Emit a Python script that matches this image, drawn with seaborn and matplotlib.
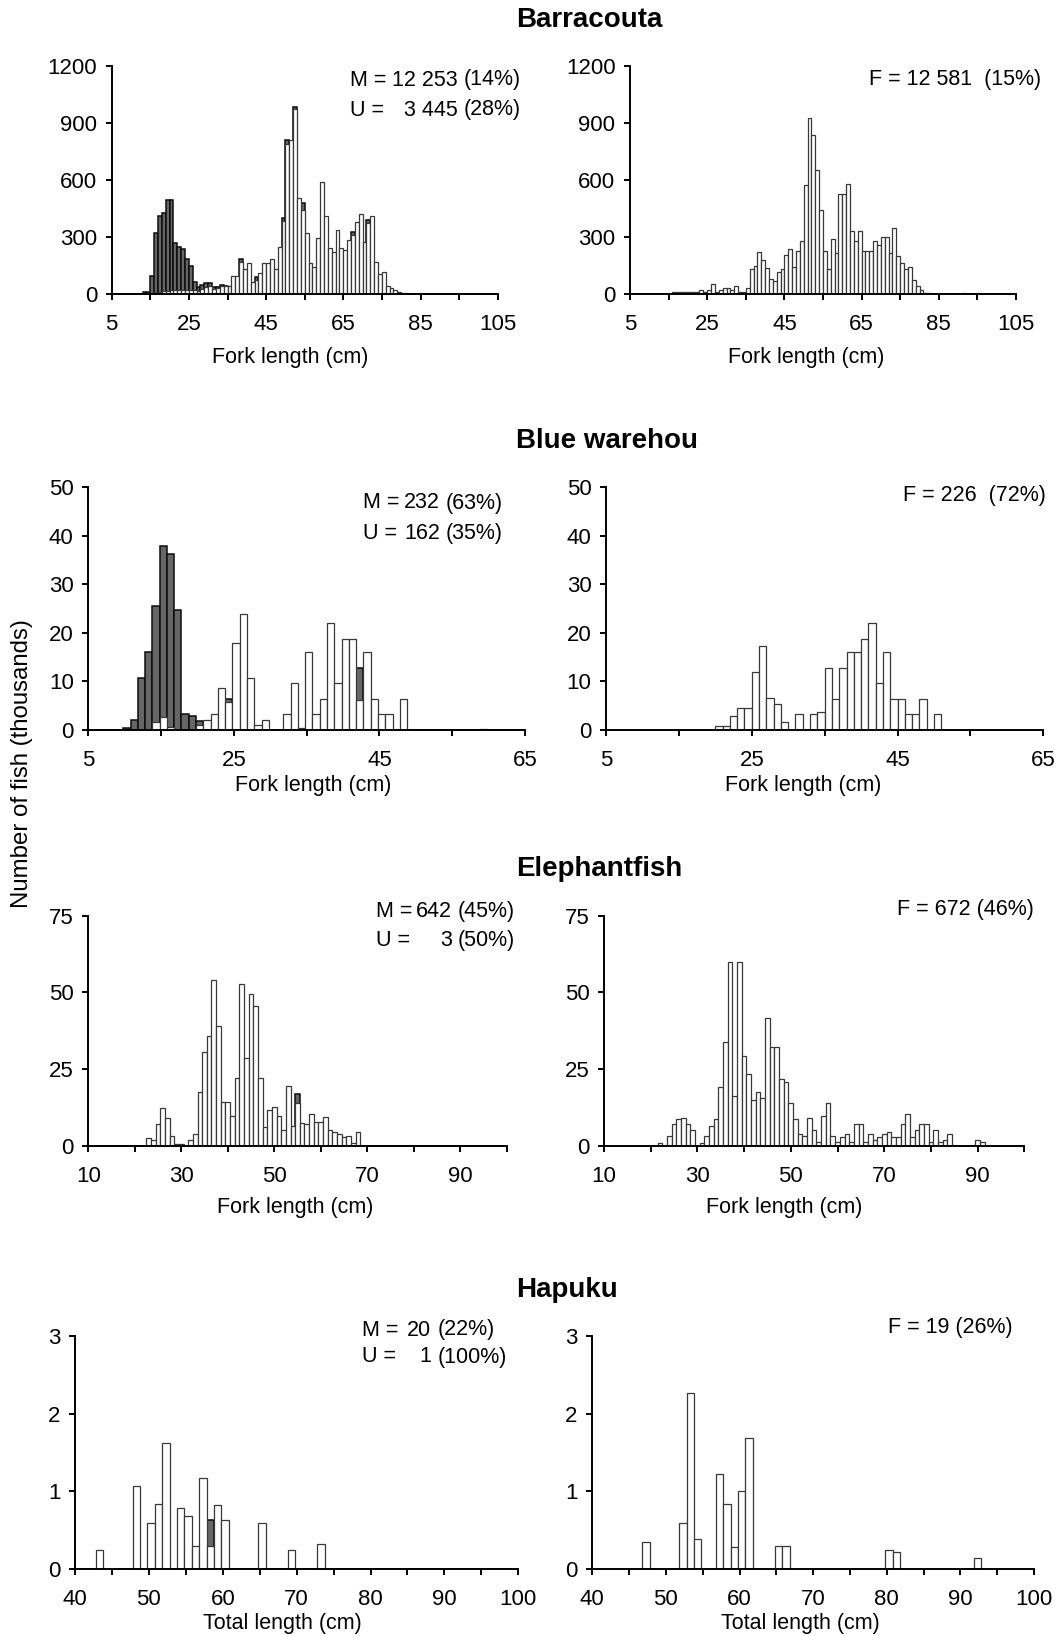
import numpy as np
import pandas as pd
import matplotlib
matplotlib.use("Agg")
import matplotlib.pyplot as plt
import seaborn as sns

sns.set_theme(style="ticks", rc={"axes.edgecolor": "black", "xtick.color": "black",
                                 "ytick.color": "black", "text.color": "black",
                                 "axes.labelcolor": "black"})
plt.rcParams['font.family'] = ['Liberation Sans', 'DejaVu Sans']

# ---------------- data (thousands of fish per 1 cm length class) ----------------
# Barracouta, males (M) + unsexed (U)
barracouta_mu_len = [13, 14, 15, 16, 17, 18, 19, 20, 21, 22, 23, 24, 25, 26, 27, 28, 29, 30, 31, 32,
                     33, 34, 35, 36, 37, 38, 39, 40, 41, 42, 43, 44, 45, 46, 47, 48, 49, 50, 51, 52,
                     53, 54, 55, 56, 57, 58, 59, 60, 61, 62, 63, 64, 65, 66, 67, 68, 69, 70, 71, 72,
                     73, 74, 75, 76, 77, 78, 79, 80]
barracouta_m = [0, 0, 0, 8, 10, 13, 15, 18, 20, 20, 20, 20, 20, 20, 15, 26, 34, 40, 27, 29,
                38, 38, 42, 95, 95, 166, 128, 160, 63, 74, 107, 160, 160, 181, 128, 244, 381, 789, 809, 970,
                505, 440, 317, 160, 139, 295, 589, 410, 242, 221, 335, 242, 230, 282, 311, 379, 419, 274, 373, 409,
                168, 102, 116, 40, 28, 19, 10, 5]
barracouta_u = [10, 10, 95, 310, 400, 410, 478, 475, 245, 224, 213, 161, 126, 43, 18, 20, 20, 14, 10, 8,
                8, 4, 0, 0, 0, 15, 0, 0, 0, 15, 0, 0, 0, 0, 0, 0, 15, 20, 0, 15,
                0, 35, 0, 0, 0, 0, 0, 0, 0, 0, 0, 0, 0, 0, 15, 0, 0, 0, 15, 0,
                0, 0, 0, 0, 0, 0, 0, 0]
# Barracouta, females
barracouta_f_len = [16, 17, 18, 19, 20, 21, 22, 23, 24, 25, 26, 27, 28, 29, 30, 31, 32, 33, 34, 35,
                    36, 37, 38, 39, 40, 41, 42, 43, 44, 45, 46, 47, 48, 49, 50, 51, 52, 53, 54, 55,
                    56, 57, 58, 59, 60, 61, 62, 63, 64, 65, 66, 67, 68, 69, 70, 71, 72, 73, 74, 75,
                    76, 77, 78, 79, 80, 81, 82, 91, 95]
barracouta_f = [7, 7, 7, 7, 7, 7, 7, 19, 10, 19, 51, 10, 19, 30, 30, 19, 42, 9, 9, 30,
                128, 146, 221, 177, 133, 75, 65, 116, 128, 203, 233, 140, 226, 275, 570, 925, 835, 650, 440, 226,
                128, 288, 212, 526, 526, 578, 331, 275, 331, 226, 226, 226, 275, 257, 297, 297, 212, 347, 201, 160,
                128, 138, 72, 40, 19, 5, 5, 5, 5]

# Blue warehou
warehou_mu_len = [10, 11, 12, 13, 14, 15, 16, 17, 18, 19, 20, 21, 22, 23, 24, 25, 26, 27, 28, 29,
                  32, 33, 34, 35, 36, 37, 38, 39, 40, 41, 42, 43, 44, 45, 46, 48, 59]
warehou_m = [0, 0, 0, 0, 1.5, 2.7, 0.6, 0, 0, 0, 1.0, 2.0, 3.2, 8.5, 5.8, 17.8, 23.8, 10.6, 0.9, 2.0,
             3.2, 9.6, 0.3, 16.1, 3.2, 6.3, 22.1, 9.6, 18.8, 18.8, 6.1, 16.1, 6.3, 3.2, 3.2, 6.3, 0.2]
warehou_u = [0.3, 2.0, 10.6, 16.1, 24.0, 35.2, 35.6, 24.7, 3.2, 2.9, 0.7, 0, 0, 0, 0.5, 0, 0, 0, 0, 0,
             0, 0, 0, 0, 0, 0, 0, 0, 0, 0, 6.7, 0, 0, 0, 0, 0, 0]
warehou_f_len = [20, 21, 22, 23, 24, 25, 26, 27, 28, 29, 31, 33, 34, 35, 36, 37, 38, 39, 40, 41,
                 42, 43, 44, 45, 46, 47, 48, 50]
warehou_f = [0.8, 0.8, 2.9, 4.5, 4.5, 11.8, 17.3, 6.5, 5.2, 1.5, 3.2, 3.2, 3.6, 12.8, 6.3, 12.8, 16.1, 16.1,
             18.8, 22.1, 9.6, 16.1, 6.3, 6.3, 3.2, 3.2, 6.3, 3.2]

# Elephantfish
elephant_mu_len = [23, 24, 25, 26, 27, 28, 29, 30, 32, 33, 34, 35, 36, 37, 38, 39, 40, 41, 42, 43,
                   44, 45, 46, 47, 48, 49, 50, 51, 52, 53, 54, 55, 56, 57, 58, 59, 60, 61, 62, 63,
                   64, 65, 66, 67, 68]
elephant_m = [2.7, 2.0, 7.1, 12.3, 9.0, 3.4, 0.7, 0.7, 2.0, 3.8, 17.7, 30.7, 35.8, 54.0, 39.1, 14.4, 14.4, 9.8,
              22.0, 52.8, 28.6, 49.4, 45.6, 22.0, 6.3, 11.7, 12.8, 9.8, 5.2, 19.5, 6.5, 13.9, 7.6, 7.1, 10.3,
              7.7, 7.7, 9.6, 5.2, 4.5, 3.8, 2.8, 3.4, 0.9, 4.5]
elephant_u = [0, 0, 0, 0, 0, 0, 0, 0, 0, 0, 0, 0, 0, 0, 0, 0, 0, 0, 0, 0,
              0, 0, 0, 0, 0, 0, 0, 0, 0, 0, 0, 3.1, 0, 0, 0, 0, 0, 0, 0, 0,
              0, 0, 0, 0, 0]
elephant_f_len = [22, 24, 25, 26, 27, 28, 29, 31, 32, 33, 34, 35, 36, 37, 38, 39, 40, 41, 42, 43,
                  44, 45, 46, 47, 48, 49, 50, 51, 52, 53, 54, 55, 56, 57, 58, 59, 60, 61, 62, 63,
                  64, 65, 66, 67, 68, 69, 70, 71, 72, 73, 74, 75, 76, 77, 78, 79, 80, 81, 82, 83,
                  84, 90, 91]
elephant_f = [0.9, 3.4, 7.1, 8.7, 9.0, 7.1, 5.2, 0.9, 3.4, 6.5, 8.7, 19.1, 33.8, 59.8, 16.4, 59.8, 29.4, 23.5,
              14.9, 17.5, 15.5, 41.6, 32.4, 32.1, 21.7, 20.7, 13.9, 8.7, 3.8, 3.4, 9.0, 5.2, 1.2, 9.8, 13.9,
              3.4, 1.2, 2.9, 3.8, 1.2, 7.1, 7.1, 1.2, 3.8, 2.0, 2.8, 3.8, 4.5, 3.0, 3.0, 7.1, 10.3, 2.8, 5.2,
              7.1, 7.1, 1.2, 5.2, 1.2, 2.0, 3.8, 2.0, 1.2]

# Hapuku (total length)
hapuku_mu_len = [43, 48, 50, 51, 52, 54, 55, 56, 57, 58, 59, 60, 65, 69, 73]
hapuku_m = [0.25, 1.07, 0.59, 0.84, 1.62, 0.79, 0.69, 0.30, 1.17, 0.30, 0.82, 0.63, 0.59, 0.25, 0.33]
hapuku_u = [0, 0, 0, 0, 0, 0, 0, 0, 0, 0.33, 0, 0, 0, 0, 0]
hapuku_f_len = [47, 52, 53, 54, 57, 58, 59, 60, 61, 65, 66, 80, 81, 92]
hapuku_f = [0.35, 0.59, 2.27, 0.39, 1.23, 0.84, 0.28, 1.0, 1.68, 0.30, 0.30, 0.25, 0.22, 0.15]

species = ["Barracouta", "Blue warehou", "Elephantfish", "Hapuku"]
x_titles = ["Fork length (cm)", "Fork length (cm)", "Fork length (cm)", "Total length (cm)"]
m_notes = [("12 253", "(14%)"), ("232", "(63%)"), ("642", "(45%)"), ("20", "(22%)")]
u_notes = [("3 445", "(28%)"), ("162", "(35%)"), ("3", "(50%)"), ("1", "(100%)")]
f_notes = ["F = 12 581  (15%)", "F = 226  (72%)", "F = 672 (46%)", "F = 19 (26%)"]
y_ticks = [[0, 300, 600, 900, 1200], [0, 10, 20, 30, 40, 50], [0, 25, 50, 75], [0, 1, 2, 3]]
x_ticks = [list(range(5, 106, 10)), list(range(5, 66, 10)), list(range(10, 101, 10)), list(range(40, 101, 5))]
x_ticklabels = [[5, 25, 45, 65, 85, 105], [5, 25, 45, 65], [10, 30, 50, 70, 90],
                [40, 50, 60, 70, 80, 90, 100]]

# ---------------- layout (pixels) ----------------
W, H = 1059, 1636
fig = plt.figure(figsize=(W / 100, H / 100), dpi=100)


def px_rect(l, r, b, t):
    return [l / W, 1 - b / H, (r - l) / W, (b - t) / H]


rows = [
    dict(L=(111.7, 497.7), R=(630, 1016), b=293.7, t=65.7, shiftL=0.0, shiftR=0.0,
         title_y=20, xlab_y=358, xlabL=290, xlabR=806,
         note=dict(x=350, cr=458, px=464, y1=80, y2=110, fx=869, fy=80)),
    dict(L=(88.3, 525), R=(606, 1043.3), b=729.7, t=487.3, shiftL=-0.2, shiftR=0.0,
         title_y=441, xlab_y=786, xlabL=313, xlabR=803,
         note=dict(x=363, cr=440, px=446, y1=503, y2=533, fx=903, fy=495)),
    dict(L=(88.3, 506.7), R=(604, 1024.3), b=1146, t=915.7, shiftL=-0.5, shiftR=-0.5,
         title_y=869, xlab_y=1207, xlabL=295, xlabR=784,
         note=dict(x=376, cr=452, px=458, y1=911, y2=940, fx=897, fy=910)),
    dict(L=(75, 518.3), R=(592.3, 1034), b=1569.3, t=1335.7, shiftL=-0.2, shiftR=-0.2,
         title_y=1290, xlab_y=1623, xlabL=282, xlabR=800,
         note=dict(x=362, cr=431, px=438, y1=1330, y2=1357, fx=888, fy=1328)),
]

mu_data = [(barracouta_mu_len, barracouta_m, barracouta_u),
           (warehou_mu_len, warehou_m, warehou_u),
           (elephant_mu_len, elephant_m, elephant_u),
           (hapuku_mu_len, hapuku_m, hapuku_u)]
f_data = [(barracouta_f_len, barracouta_f), (warehou_f_len, warehou_f),
          (elephant_f_len, elephant_f), (hapuku_f_len, hapuku_f)]

DARK = "#666666"
EDGE = "#383838"
FS = 15.5


def fx(x):
    return x / W


def fy(y):
    return 1 - y / H


def draw_panel(ax, lengths, m, u, xt, xtl, yt, shift):
    df = pd.DataFrame({"length": np.asarray(lengths, float),
                       "m": np.asarray(m, float), "u": np.asarray(u, float)})
    df["total"] = df["m"] + df["u"]
    lo, hi = xt[0], xt[-1]
    edges = [float(e) + shift for e in range(lo, hi + 1)]
    du = df[df["u"] > 0]
    if len(du):
        sns.histplot(data=du, x="length", weights="total", bins=edges, ax=ax,
                     color=DARK, edgecolor="#0d0d0d", linewidth=1.1, alpha=1)
    sns.histplot(data=df, x="length", weights="m", bins=edges, ax=ax,
                 color="white", edgecolor=EDGE, linewidth=0.9, alpha=1)
    ax.set_xlim(lo, hi)
    ax.set_ylim(yt[0], yt[-1])
    ax.set_xticks(xt)
    ax.set_xticklabels([str(v) if v in xtl else "" for v in xt])
    ax.set_yticks(yt)
    ax.set_yticklabels([str(v) for v in yt])
    ax.set_xlabel("")
    ax.set_ylabel("")
    for s in ["top", "right"]:
        ax.spines[s].set_visible(False)
    for s in ["left", "bottom"]:
        ax.spines[s].set_linewidth(1.4)
        ax.spines[s].set_color("black")
    ax.tick_params(axis="both", direction="out", length=4.5, width=1.4, labelsize=16, pad=6)
    ax.tick_params(axis="x", pad=10)
    ax.set_facecolor("white")
    ax.grid(False)


for i, row in enumerate(rows):
    axL = fig.add_axes(px_rect(row["L"][0], row["L"][1], row["b"], row["t"]))
    lens, m, u = mu_data[i]
    draw_panel(axL, lens, m, u, x_ticks[i], x_ticklabels[i], y_ticks[i], row["shiftL"])

    axR = fig.add_axes(px_rect(row["R"][0], row["R"][1], row["b"], row["t"]))
    flen, fval = f_data[i]
    draw_panel(axR, flen, fval, [0] * len(fval), x_ticks[i], x_ticklabels[i], y_ticks[i], row["shiftR"])

    fig.text(fx(516), fy(row["title_y"]), species[i], fontsize=20, fontweight="bold",
             ha="left", va="center")
    fig.text(fx(row["xlabL"]), fy(row["xlab_y"]), x_titles[i], fontsize=FS, ha="center", va="center")
    fig.text(fx(row["xlabR"]), fy(row["xlab_y"]), x_titles[i], fontsize=FS, ha="center", va="center")
    n = row["note"]
    for lab, (cnt, pct), yy in [("M =", m_notes[i], n["y1"]), ("U =", u_notes[i], n["y2"])]:
        fig.text(fx(n["x"]), fy(yy), lab, fontsize=FS, ha="left", va="center")
        fig.text(fx(n["cr"]), fy(yy), cnt, fontsize=FS, ha="right", va="center")
        fig.text(fx(n["px"]), fy(yy), pct, fontsize=FS, ha="left", va="center")
    fig.text(fx(n["fx"]), fy(n["fy"]), f_notes[i], fontsize=FS, ha="left", va="center")

fig.text(fx(22), fy(764), "Number of fish (thousands)", fontsize=17.3, rotation=90,
         ha="center", va="center")

fig.savefig("out.png", dpi=100, facecolor="white")
